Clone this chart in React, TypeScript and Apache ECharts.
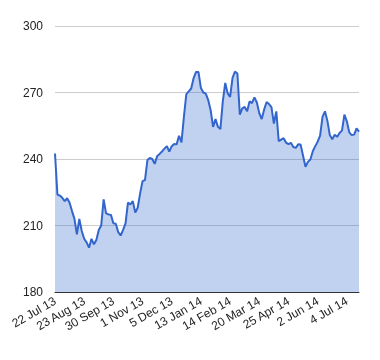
import React, { useEffect, useRef } from "react";
import * as echarts from "echarts";

const tickLabels = [
  "22 Jul 13", "23 Aug 13", "30 Sep 13", "1 Nov 13", "5 Dec 13", "13 Jan 14",
  "14 Feb 14", "20 Mar 14", "25 Apr 14", "2 Jun 14", "4 Jul 14",
];

const prices = [
  242.5, 224, 223.5, 222.5, 221, 222.3, 220.3, 216.5, 213, 206,
  213, 207.5, 204, 202.4, 200, 204, 201.5, 203.5, 208, 210,
  221.8, 215.5, 215, 214.8, 211, 210.8, 207, 205.5, 208, 211,
  220.3, 219.5, 221, 215.8, 218, 224.5, 230, 230.5, 239.5, 240.5,
  240, 237.8, 241.3, 242.3, 243.4, 244.7, 245.8, 243.3, 245.8, 246.8,
  246.6, 250.5, 247.5, 259, 269.3, 270.5, 271.8, 276.5, 279.3, 279.2,
  272, 270, 269.5, 266.6, 262, 254.5, 258, 254.5, 253.5, 266,
  274.3, 269.6, 268, 276.6, 279.4, 278.6, 260, 262.8, 263.5, 261.5,
  266, 265.2, 267.8, 265.5, 260.7, 258, 262.3, 265.7, 264.8, 263.4,
  256, 261.5, 248, 248.7, 249.4, 247.4, 246.7, 247.3, 245.4, 245,
  246.6, 246.5, 241.5, 236.5, 238.7, 239.8, 243.5, 245.8, 247.8, 250.5,
  259, 261.5, 257.3, 250.8, 248.9, 250.9, 250, 251.7, 252.8, 260,
  257, 252, 250.8, 251, 253.8, 252.4,
];

const labelEvery = 12;
const categories = prices.map((_, i) =>
  i % labelEvery === 0 && tickLabels[i / labelEvery] ? tickLabels[i / labelEvery] : ""
);

export default function App() {
  const ref = useRef<HTMLDivElement>(null);
  useEffect(() => {
    if (!ref.current) return;
    const chart = echarts.init(ref.current, undefined, { renderer: "svg" });
    chart.setOption({
      animation: false,
      grid: { left: 55, right: 21, top: 26, bottom: 68, outerBoundsMode: "none" },
      xAxis: {
        type: "category",
        data: categories,
        boundaryGap: false,
        axisLine: { show: true, lineStyle: { color: "#333", width: 1 } },
        axisTick: { show: false },
        splitLine: { show: false },
        axisLabel: {
          interval: labelEvery - 1,
          rotate: 30,
          margin: 8,
          color: "#222",
          fontSize: 12,
          fontFamily: "Arial, 'Liberation Sans', sans-serif",
        },
      },
      yAxis: {
        type: "value",
        min: 180,
        max: 300,
        interval: 30,
        axisLine: { show: false },
        axisTick: { show: false },
        splitLine: { lineStyle: { color: "#cccccc", width: 1 } },
        axisLabel: {
          margin: 12,
          color: "#222",
          fontSize: 12,
          fontFamily: "Arial, 'Liberation Sans', sans-serif",
        },
      },
      series: [
        {
          type: "line",
          data: prices,
          symbol: "none",
          lineStyle: { color: "#3366cc", width: 2 },
          itemStyle: { color: "#3366cc" },
          areaStyle: { color: "rgba(51,102,204,0.3)", opacity: 1, origin: "start" },
        },
      ],
    });
    return () => chart.dispose();
  }, []);
  return (
    <div
      ref={ref}
      style={{ position: "fixed", left: 0, top: 0, width: 380, height: 360 }}
    />
  );
}
